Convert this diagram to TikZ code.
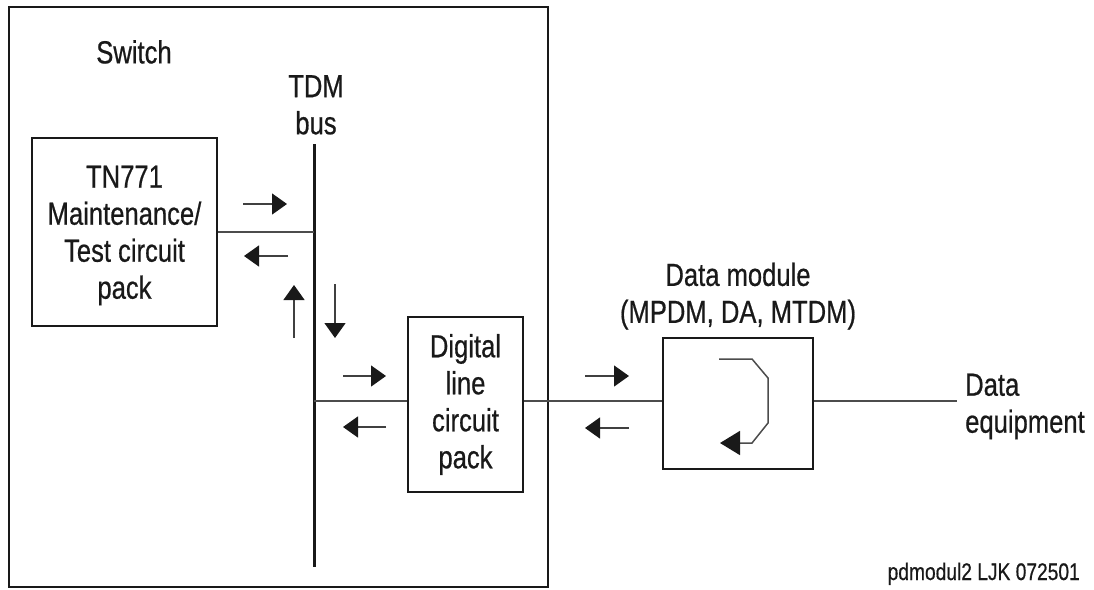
\documentclass[tikz,border=0pt]{standalone}
\usepackage{fontspec}
\setmainfont[FakeStretch=0.8,FakeBold=0.6]{Liberation Sans}
\usetikzlibrary{arrows.meta}
\begin{document}
\begin{tikzpicture}[x=1pt,y=-1pt,
  txt/.style={font=\fontsize{32}{37}\selectfont, inner sep=0pt, align=center, text=black!90},
  box/.style={draw=black!90, line width=2.6pt, inner sep=0pt, txt},
  wire/.style={draw=black!70, line width=1.5pt},
  flow/.style={draw=black!75, line width=1.4pt, -{Triangle[length=15pt,width=21pt,color=black!90]}},
  bigflow/.style={draw=black!70, line width=1.5pt, -{Triangle[length=20pt,width=24pt,color=black!90]}}
  ]
\useasboundingbox (0,0) rectangle (1094,589);
% switch frame
\node[box, minimum width=539pt, minimum height=580pt] (sw) at (278.5,297) {};
\node[txt, anchor=north] (swl) at (134,40) {Switch};
% TN771
\node[box, minimum width=185pt, minimum height=188pt] (tn) at (124.5,232) {};
\node[txt, anchor=north] (tnt) at (124.5,165.5) {TN771\\Maintenance/\\Test circuit\\pack};
% TDM bus
\coordinate (bt) at (314,144);
\coordinate (bb) at (314,567);
\draw[line width=3pt, black!90] (bt) -- (bb);
\node[txt, anchor=north] (tdm) at (316,75) {TDM\\bus};
\draw[wire] (tn.east) -- (tn.east -| bt);
% digital line circuit pack
\node[box, minimum width=115pt, minimum height=175pt] (dl) at (465.5,404.5) {Digital\\line\\circuit\\pack};
\coordinate (ly) at (0,401);
\draw[wire] (bt |- ly) -- (dl.west |- ly);
% data module
\node[box, minimum width=150pt, minimum height=131pt] (dm) at (738,403.5) {};
\node[txt, anchor=north] (dml) at (738,262.5) {Data module\\(MPDM, DA, MTDM)};
\draw[wire] (dl.east |- ly) -- (dm.west |- ly);
\coordinate (de) at (957,401);
\draw[wire] (dm.east |- ly) -- (de);
\node[txt, anchor=north west, align=left] (del) at (965,373.5) {Data\\equipment};
% loop inside data module
\draw[bigflow] (719,359) -- (752,359) -- (768,378) -- (768,423) -- (752,443) -- (720,443);
% direction arrows
\draw[flow] (243,204) -- (287,204);
\draw[flow] (288,256) -- (244,256);
\draw[flow] (294,338) -- (294,285);
\draw[flow] (335,284) -- (335,338);
\draw[flow] (343,376) -- (386,376);
\draw[flow] (386,427) -- (343,427);
\draw[flow] (585,376) -- (629,376);
\draw[flow] (629,428) -- (585,428);
% footer
\node[font=\fontsize{24}{28}\selectfont, inner sep=0pt, anchor=base east, text=black!90] (ft) at (1080,580) {pdmodul2 LJK 072501};
\end{tikzpicture}
\end{document}
